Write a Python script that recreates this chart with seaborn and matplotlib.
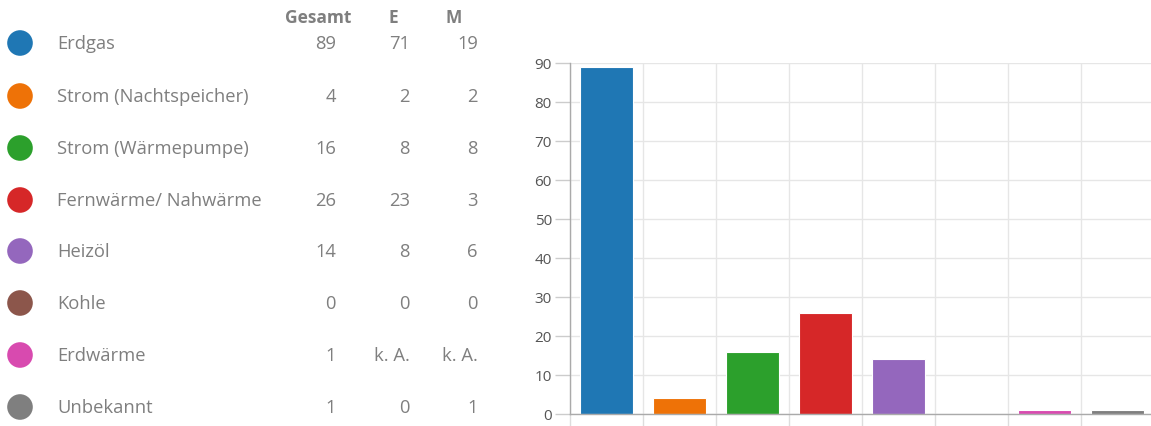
import matplotlib
matplotlib.use("Agg")
import matplotlib.pyplot as plt
import seaborn as sns
import pandas as pd
from matplotlib.ticker import FixedLocator

categories = ["Erdgas", "Strom (Nachtspeicher)", "Strom (Wärmepumpe)", "Fernwärme/ Nahwärme",
              "Heizöl", "Kohle", "Erdwärme", "Unbekannt"]
gesamt = [89, 4, 16, 26, 14, 0, 1, 1]
e_vals = ["71", "2", "8", "23", "8", "0", "k. A.", "0"]
m_vals = ["19", "2", "8", "3", "6", "0", "k. A.", "1"]
headers = ["Gesamt", "E", "M"]
colors = ["#1f77b4", "#ee7207", "#2ca02c", "#d62728", "#9467bd", "#8c564b", "#d84aaf", "#7f7f7f"]
yticks = [0, 10, 20, 30, 40, 50, 60, 70, 80, 90]

sns.set_theme(style="white")
plt.rcParams["font.family"] = ["Open Sans", "DejaVu Sans"]

W, H = 1151, 427
fig = plt.figure(figsize=(W / 100, H / 100), dpi=100)

# ---- left: legend table ----
axl = fig.add_axes([0, 0, 500 / W, 1])
axl.set_xlim(0, 500)
axl.set_ylim(H, 0)
axl.axis("off")
row_y = [44, 97, 149, 201, 252, 304, 356, 408]
df_dots = pd.DataFrame({"x": [20] * len(categories), "y": row_y, "cat": categories})
sns.scatterplot(data=df_dots, x="x", y="y", hue="cat", palette=colors, s=340,
                edgecolor="none", legend=False, ax=axl)
txt_col = "#7f7f7f"
axl.text(318, 18, headers[0], ha="center", va="center", fontsize=12.5, fontweight="bold", color=txt_col)
axl.text(393, 18, headers[1], ha="center", va="center", fontsize=12.5, fontweight="bold", color=txt_col)
axl.text(454, 18, headers[2], ha="center", va="center", fontsize=12.5, fontweight="bold", color=txt_col)
for i, cat in enumerate(categories):
    y = row_y[i]
    axl.text(57, y, cat, ha="left", va="center", fontsize=13.2, color=txt_col)
    axl.text(336, y, str(gesamt[i]), ha="right", va="center", fontsize=13.2, color=txt_col)
    axl.text(410, y, e_vals[i], ha="right", va="center", fontsize=13.2, color=txt_col)
    axl.text(478, y, m_vals[i], ha="right", va="center", fontsize=13.2, color=txt_col)

# ---- right: bar chart ----
left = 570 / W
width = 584 / W
bottom = (H - 415) / H
height = 351 / H
ax = fig.add_axes([left, bottom, width, height])
df = pd.DataFrame({"cat": categories, "val": gesamt})
sns.barplot(data=df, x="cat", y="val", hue="cat", palette=colors, width=0.72,
            legend=False, ax=ax, edgecolor="white", linewidth=0.8, saturation=1)
ax.set_xlim(-0.5, len(categories) - 0.5)
ax.set_ylim(0, 90)
ax.set_yticks(yticks)
ax.set_yticklabels([str(t) for t in yticks], fontsize=11, color="#555555")
ax.set_xticks([])
ax.xaxis.set_minor_locator(FixedLocator([i - 0.5 for i in range(len(categories) + 1)]))
ax.tick_params(axis="x", which="minor", length=9, width=1, color="#dddddd", bottom=True)
ax.tick_params(axis="y", which="major", length=11, width=1, color="#cccccc", left=True, pad=2)
ax.set_xlabel("")
ax.set_ylabel("")
ax.grid(True, axis="y", color="#e6e6e6", linewidth=1)
ax.grid(True, axis="x", which="minor", color="#e6e6e6", linewidth=1)
ax.set_axisbelow(True)
for s in ["top", "right"]:
    ax.spines[s].set_visible(False)
ax.spines["left"].set_color("#aaaaaa")
ax.spines["bottom"].set_color("#aaaaaa")
ax.spines["left"].set_linewidth(1)
ax.spines["bottom"].set_linewidth(1)

fig.savefig("out.png", dpi=100)
